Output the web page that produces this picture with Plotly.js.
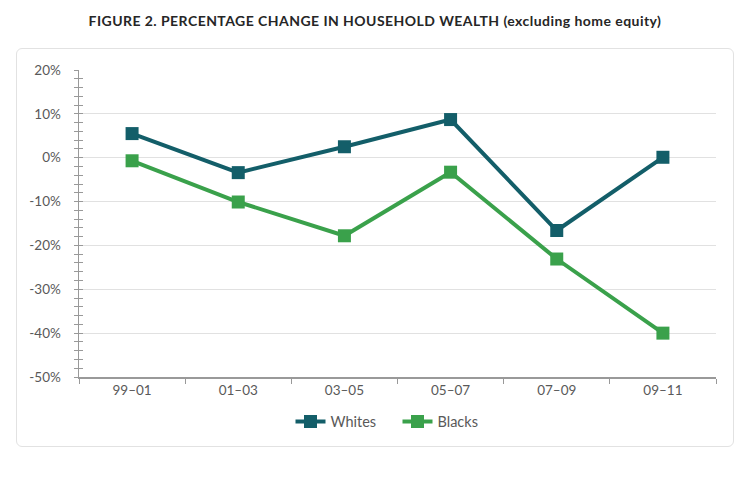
<!DOCTYPE html>
<html>
<head>
<meta charset="utf-8">
<script src="https://cdn.plot.ly/plotly-3.0.1.min.js"></script>
<style>
html,body{margin:0;padding:0;background:#fff;}
#wrap{position:relative;width:750px;height:478px;}
#box{position:absolute;left:16px;top:48px;width:718px;height:399px;border:1px solid #e2e2e2;border-radius:6px;box-sizing:border-box;pointer-events:none;}
#chart{position:absolute;left:0;top:0;width:750px;height:478px;}
#chart .gtitle{letter-spacing:0.45px;}
</style>
</head>
<body>
<div id="wrap">
<div id="box"></div>
<div id="chart"></div>
</div>
<script>
const categories = ["99\u201301", "01\u201303", "03\u201305", "05\u201307", "07\u201309", "09\u201311"];
const whites = [5.5, -3.4, 2.5, 8.7, -16.6, 0.1];
const blacks = [-0.7, -10.1, -17.8, -3.3, -23.1, -40.0];
const yTickVals = [20, 10, 0, -10, -20, -30, -40, -50];
const yTickText = ["20%", "10%", "0%", "-10%", "-20%", "-30%", "-40%", "-50%"];

const tickFont = {family: "'Source Sans Pro', 'Lato', 'Open Sans', sans-serif", size: 13.5, color: "#595959"};

const traces = [
  {x: categories, y: whites, name: "Whites", type: "scatter", mode: "lines+markers",
   line: {color: "#135e69", width: 4}, marker: {symbol: "square", size: 13, color: "#135e69"}},
  {x: categories, y: blacks, name: "Blacks", type: "scatter", mode: "lines+markers",
   line: {color: "#3aa14b", width: 4}, marker: {symbol: "square", size: 13, color: "#3aa14b"}},
  {x: categories, y: blacks, yaxis: "y2", type: "scatter", mode: "none", showlegend: false, hoverinfo: "skip"}
];

const layout = {
  width: 750, height: 478,
  margin: {l: 79, r: 34, t: 70, b: 101},
  paper_bgcolor: "rgba(0,0,0,0)", plot_bgcolor: "rgba(0,0,0,0)",
  title: {text: "<b>FIGURE 2. PERCENTAGE CHANGE IN HOUSEHOLD WEALTH (excluding home equity)</b>",
          x: 0.5, xanchor: "center", y: 0.955, yanchor: "middle",
          font: {family: "'Lato', 'Open Sans', sans-serif", size: 14, color: "#262626"}},
  showlegend: true,
  legend: {orientation: "h", x: 0.5, xanchor: "center", y: -0.145, yanchor: "middle",
           font: {family: "'Lato', 'Open Sans', sans-serif", size: 14.5, color: "#595959"},
           entrywidth: 62, entrywidthmode: "pixels", tracegroupgap: 0},
  xaxis: {type: "category", range: [-0.5, 5.5], autorange: false, tickson: "boundaries", ticks: "outside", ticklen: 5, tickcolor: "#999",
          showline: true, linecolor: "#999", linewidth: 1.5, showgrid: false, zeroline: false,
          tickfont: tickFont, fixedrange: true},
  yaxis: {range: [-50, 20], tickvals: yTickVals, ticktext: yTickText,
          ticks: "outside", ticklen: 4, tickcolor: "#999", tickwidth: 1,
          minor: {dtick: 2, tick0: 0, ticks: "outside", ticklen: 4, tickcolor: "#999", showgrid: false},
          showline: true, linecolor: "#999", linewidth: 1.5,
          showgrid: true, gridcolor: "#e1e1e1", gridwidth: 1, zeroline: false,
          tickfont: tickFont, ticklabelstandoff: 10},
  yaxis2: {range: [-50, 20], overlaying: "y", side: "left", tickvals: yTickVals,
           ticks: "inside", ticklen: 4, tickcolor: "#999", tickwidth: 1,
           minor: {dtick: 2, tick0: 0, ticks: "inside", ticklen: 4, tickcolor: "#999", showgrid: false},
           showticklabels: false, showgrid: false, zeroline: false, showline: false}
};

Plotly.newPlot("chart", traces, layout, {displayModeBar: false, staticPlot: true});
</script>
</body>
</html>
